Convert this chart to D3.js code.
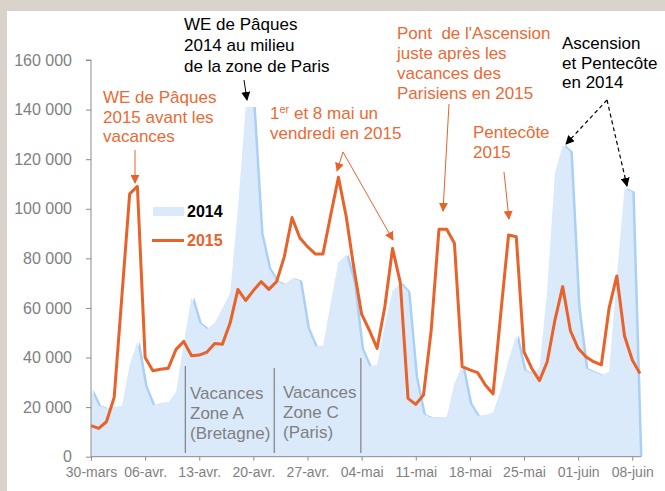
<!DOCTYPE html>
<html>
<head>
<meta charset="utf-8">
<script src="https://cdn.jsdelivr.net/npm/d3@7"></script>
<style>
  body { margin: 0; background: #d9d3cc; }
  svg { display: block; font-family: "Liberation Sans", Arial, sans-serif; }
</style>
</head>
<body>
<script>
// daily values, day 0 = 30 mars (2014 aligned on weekday)
var values2014 = [27000, 20500, 19500, 20000, 20500, 37000, 46500, 28500, 20800, 21800,
  21800, 26200, 46000, 64500, 54000, 51500, 54000, 60000, 66000, 100000,
  141000, 141000, 90000, 76000, 71000, 69500, 72000, 71000, 52000, 44500,
  44500, 62000, 78500, 81500, 70000, 43500, 36500, 37000, 53000, 67000,
  70000, 66500, 32000, 17000, 15800, 16000, 16000, 29600, 37000, 21500,
  16500, 16800, 17900, 26900, 39000, 49100, 35000, 33600, 35600, 67200,
  114300, 125700, 123000, 60500, 35600, 34300, 33000, 34300, 72600, 108300,
  106900, 0];

var values2015 = [12500, 11400, 14100, 24000, 65000, 106000, 109000, 40000, 34700, 35300,
  35700, 43300, 46500, 40700, 41000, 42200, 45700, 45400, 54000, 67500,
  63000, 67000, 70600, 67500, 70600, 80700, 96500, 88300, 84700, 81800,
  81800, 97500, 112700, 97000, 76000, 57500, 51000, 43700, 60500, 84000,
  70200, 23500, 21100, 24900, 51100, 91700, 91700, 86100, 36300, 35000,
  33900, 28900, 25300, 58000, 89400, 88700, 42300, 35600, 30700, 38300,
  55100, 68600, 50800, 43700, 40300, 38300, 37000, 59900, 72900, 48700,
  39000, 33600];

var tickLabels = ["30-mars", "06-avr.", "13-avr.", "20-avr.", "27-avr.", "04-mai",
  "11-mai", "18-mai", "25-mai", "01-juin", "08-juin"];
var yTicks = [0, 20000, 40000, 60000, 80000, 100000, 120000, 140000, 160000];

// vacation separators (day index)
var vacLines = [12.2, 23.7, 34.9];

var W = 665, H = 491;
var orange = "#e8622a", orangeText = "#ea6a35", grey = "#7f7f7f";

var svg = d3.select("body").append("svg")
    .attr("width", W)
    .attr("height", H);

// white panel
svg.append("rect")
    .attr("x", 7).attr("y", 11)
    .attr("width", W - 7).attr("height", H - 11)
    .attr("fill", "#fff");

var x = d3.scaleLinear().domain([0, 71]).range([91, 640]);
var y = d3.scaleLinear().domain([0, 160000]).range([456.7, 60]);

var defs = svg.append("defs");
defs.append("clipPath").attr("id", "plotclip")
  .append("rect").attr("x", 91).attr("y", 40).attr("width", 560).attr("height", 456.7 - 40);

function marker(id, col) {
  defs.append("marker")
      .attr("id", id)
      .attr("viewBox", "0 0 10 10")
      .attr("refX", 9).attr("refY", 5)
      .attr("markerWidth", 9).attr("markerHeight", 9)
      .attr("markerUnits", "userSpaceOnUse")
      .attr("orient", "auto")
    .append("path")
      .attr("d", "M0,0 L10,5 L0,10 Z")
      .attr("fill", col);
}
marker("arrO", orange);
marker("arrK", "#000");

// 2014 area with its shadow edge
var area = d3.area()
    .x(function(d, i) { return x(i); })
    .y0(y(0))
    .y1(function(d) { return y(d); });

var plot = svg.append("g").attr("clip-path", "url(#plotclip)");
plot.append("path")
    .datum(values2014)
    .attr("d", area)
    .attr("transform", "translate(2.5,0)")
    .attr("fill", "#a9d0f7");
plot.append("path")
    .datum(values2014)
    .attr("d", area)
    .attr("fill", "#dbeafb");

// vacation separators
svg.selectAll(".vac")
    .data(vacLines)
    .enter().append("line")
    .attr("x1", function(d) { return x(d); })
    .attr("x2", function(d) { return x(d); })
    .attr("y1", function(d, i) { return [366, 368, 358][i]; })
    .attr("y2", 453)
    .attr("stroke", "#808080")
    .attr("stroke-width", 1.2);

// 2015 line
var line = d3.line()
    .x(function(d, i) { return x(i); })
    .y(function(d) { return y(d); });

svg.append("path")
    .datum(values2015)
    .attr("d", line)
    .attr("fill", "none")
    .attr("stroke", orange)
    .attr("stroke-width", 3)
    .attr("stroke-linejoin", "round");

// axes
var yAxis = d3.axisLeft(y)
    .tickValues(yTicks)
    .tickSize(5)
    .tickFormat(function(d) { return d3.format(",")(d).replace(/,/g, " "); });
var gy = svg.append("g").attr("transform", "translate(91,0)").call(yAxis);
gy.select(".domain").attr("stroke", "#8c8c8c").attr("d", "M-5," + y(160000) + "H0V" + y(0));
gy.selectAll(".tick line").attr("stroke", "#8c8c8c");
gy.selectAll(".tick text")
    .attr("x", -19)
    .attr("fill", grey)
    .style("font-size", "16px")
    .style("font-family", "Liberation Sans, Arial, sans-serif");

var xAxis = d3.axisBottom(x)
    .tickValues(d3.range(0, 71, 7))
    .tickSize(4)
    .tickFormat(function(d, i) { return tickLabels[i]; });
var gx = svg.append("g").attr("transform", "translate(0," + y(0) + ")").call(xAxis);
gx.select(".domain").attr("stroke", "#8c8c8c").attr("d", "M91,0H641");
gx.selectAll(".tick line").attr("stroke", "#8c8c8c");
gx.selectAll(".tick text")
    .attr("y", 10)
    .attr("fill", grey)
    .style("font-size", "14px")
    .style("font-family", "Liberation Sans, Arial, sans-serif");

// legend
svg.append("rect").attr("x", 153).attr("y", 207).attr("width", 31).attr("height", 9).attr("fill", "#dbeafb");
svg.append("text").attr("x", 187).attr("y", 217).text("2014")
    .style("font-size", "16px").style("font-weight", "bold").attr("fill", "#000");
svg.append("line").attr("x1", 152).attr("x2", 184).attr("y1", 240.5).attr("y2", 240.5)
    .attr("stroke", orange).attr("stroke-width", 3);
svg.append("text").attr("x", 187).attr("y", 246).text("2015")
    .style("font-size", "16px").style("font-weight", "bold").attr("fill", orange);

// annotations
function block(x0, y0, lines, col, lh) {
  var t = svg.append("text").attr("fill", col)
      .style("font-size", "17px")
      .style("white-space", "pre");
  lines.forEach(function(s, i) {
    t.append("tspan").attr("x", x0).attr("y", y0 + i * lh).text(s);
  });
  return t;
}
block(184, 30, ["WE de Pâques", "2014 au milieu", "de la zone de Paris"], "#000", 21);
block(103, 103, ["WE de Pâques", "2015 avant les", "vacances"], orangeText, 19.5);
var t1 = svg.append("text").attr("fill", orangeText).style("font-size", "17px");
var l1 = t1.append("tspan").attr("x", 270).attr("y", 119);
l1.append("tspan").text("1");
l1.append("tspan").text("er").style("font-size", "11px").attr("dy", -6);
l1.append("tspan").text(" et 8 mai un").attr("dy", 6);
t1.append("tspan").attr("x", 270).attr("y", 138.5).text("vendredi en 2015");
block(397, 39, ["Pont  de l'Ascension", "juste après les", "vacances des", "Parisiens en 2015"], orangeText, 20);
block(473, 138, ["Pentecôte", "2015"], orangeText, 20);
block(562, 49, ["Ascension", "et Pentecôte", "en 2014"], "#000", 19.5);
block(190, 399, ["Vacances", "Zone A", "(Bretagne)"], grey, 20);
block(283, 398, ["Vacances", "Zone C", "(Paris)"], grey, 20);

var arrows = [
  {x1: 244, y1: 80, x2: 247, y2: 100, c: "#000", m: "arrK", dash: null, w: 1},
  {x1: 135, y1: 150, x2: 135, y2: 183, c: orange, m: "arrO", dash: null, w: 1},
  {x1: 343, y1: 152, x2: 337, y2: 171, c: orange, m: "arrO", dash: null, w: 1},
  {x1: 343, y1: 152, x2: 393, y2: 240, c: orange, m: "arrO", dash: null, w: 1},
  {x1: 449, y1: 104, x2: 443, y2: 211, c: orange, m: "arrO", dash: null, w: 1},
  {x1: 504, y1: 172, x2: 509, y2: 219, c: orange, m: "arrO", dash: null, w: 1},
  {x1: 607, y1: 100, x2: 566, y2: 144, c: "#000", m: "arrK", dash: "4,3", w: 1.2},
  {x1: 607, y1: 100, x2: 627, y2: 186, c: "#000", m: "arrK", dash: "4,3", w: 1.2}
];
svg.selectAll(".arrow")
    .data(arrows)
    .enter().append("line")
    .attr("x1", function(d) { return d.x1; })
    .attr("y1", function(d) { return d.y1; })
    .attr("x2", function(d) { return d.x2; })
    .attr("y2", function(d) { return d.y2; })
    .attr("stroke", function(d) { return d.c; })
    .attr("stroke-width", function(d) { return d.w; })
    .attr("stroke-dasharray", function(d) { return d.dash; })
    .attr("marker-end", function(d) { return "url(#" + d.m + ")"; });
</script>
</body>
</html>
